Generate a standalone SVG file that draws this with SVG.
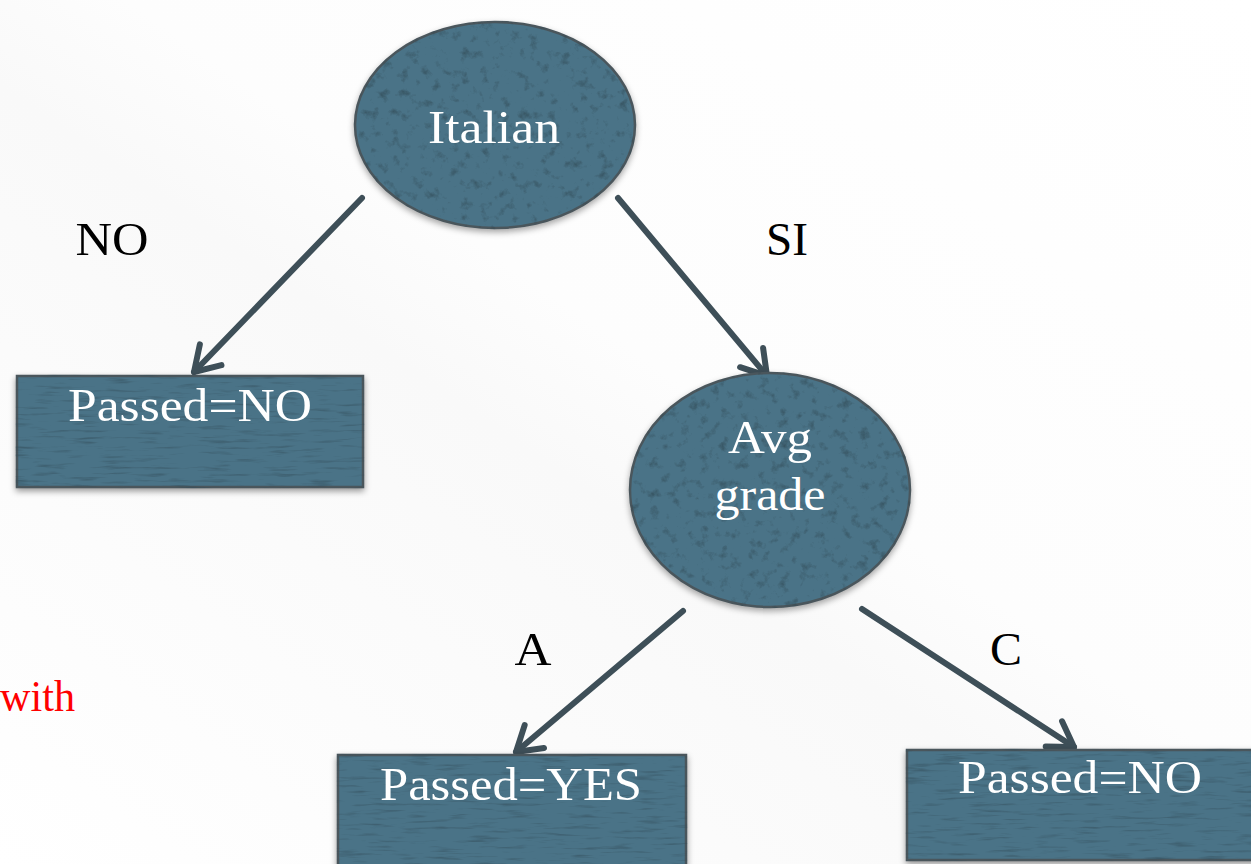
<svg xmlns="http://www.w3.org/2000/svg" width="1251" height="864" viewBox="0 0 1251 864">
  <defs>
    <style>
      .node { fill: #4a7387; stroke: #4a565c; stroke-width: 2.5; }
      .box { filter: url(#boxTex); }
      .oval { filter: url(#ovalTex); }
      .ntext { font-family: "Liberation Serif", "DejaVu Serif", serif; font-size: 46px; fill: #ffffff; text-anchor: middle; }
      .elabel { font-family: "Liberation Serif", "DejaVu Serif", serif; font-size: 46px; fill: #000000; text-anchor: middle; }
      .note { font-family: "Liberation Serif", "DejaVu Serif", serif; font-size: 44px; fill: #ff0000; }
      .edge { stroke: #3e4f58; stroke-width: 6; fill: none; stroke-linecap: round; marker-end: url(#chevron); }
    </style>
    <linearGradient id="bg" x1="0" y1="1" x2="1" y2="0">
      <stop offset="0" stop-color="#ffffff"/>
      <stop offset="0.45" stop-color="#f9f9f9"/>
      <stop offset="0.55" stop-color="#fdfdfd"/>
      <stop offset="1" stop-color="#ffffff"/>
    </linearGradient>
    <!-- open chevron arrowhead -->
    <marker id="chevron" markerUnits="userSpaceOnUse" viewBox="-30 -20 34 40" refX="0" refY="0" markerWidth="34" markerHeight="40" orient="auto">
      <path d="M -24 -15 L 0 0 L -24 15" fill="none" stroke="#3e4f58" stroke-width="6" stroke-linecap="round" stroke-linejoin="round"/>
    </marker>
    <!-- stony texture for the ovals -->
    <filter id="ovalTex" x="-5%" y="-5%" width="110%" height="112%" color-interpolation-filters="sRGB">
      <feTurbulence type="fractalNoise" baseFrequency="0.1" numOctaves="4" seed="7" result="noise"/>
      <feColorMatrix in="noise" type="matrix" values="0 0 0 0 0.18  0 0 0 0 0.27  0 0 0 0 0.31  -1.8 0 0 0 0.78" result="spots"/>
      <feComposite in="spots" in2="SourceGraphic" operator="in" result="spotsIn"/>
      <feGaussianBlur in="SourceAlpha" stdDeviation="3"/>
      <feOffset dx="0" dy="3" result="sb"/>
      <feFlood flood-color="#000000" flood-opacity="0.35"/>
      <feComposite in2="sb" operator="in" result="shadow"/>
      <feMerge>
        <feMergeNode in="shadow"/>
        <feMergeNode in="SourceGraphic"/>
        <feMergeNode in="spotsIn"/>
      </feMerge>
    </filter>
    <!-- streaky texture for the boxes -->
    <filter id="boxTex" x="-5%" y="-10%" width="110%" height="125%" color-interpolation-filters="sRGB">
      <feTurbulence type="fractalNoise" baseFrequency="0.03 0.3" numOctaves="3" seed="4" result="noise"/>
      <feColorMatrix in="noise" type="matrix" values="0 0 0 0 0.2  0 0 0 0 0.3  0 0 0 0 0.35  -1.6 0 0 0 0.72" result="streaks"/>
      <feComposite in="streaks" in2="SourceGraphic" operator="in" result="streaksIn"/>
      <feGaussianBlur in="SourceAlpha" stdDeviation="3"/>
      <feOffset dx="0" dy="3" result="sb"/>
      <feFlood flood-color="#000000" flood-opacity="0.4"/>
      <feComposite in2="sb" operator="in" result="shadow"/>
      <feMerge>
        <feMergeNode in="shadow"/>
        <feMergeNode in="SourceGraphic"/>
        <feMergeNode in="streaksIn"/>
      </feMerge>
    </filter>
  </defs>

  <rect x="0" y="0" width="1251" height="864" fill="url(#bg)"/>

  <!-- connectors -->
  <g id="connectors">
    <line class="edge" x1="362" y1="198" x2="194" y2="372"/>
    <line class="edge" x1="618" y1="198" x2="767" y2="376"/>
    <line class="edge" x1="683" y1="611" x2="516" y2="752"/>
    <line class="edge" x1="862" y1="609" x2="1074" y2="747"/>
    <text class="elabel" x="112" y="255" textLength="73" lengthAdjust="spacingAndGlyphs">NO</text>
    <text class="elabel" x="787" y="255" textLength="42" lengthAdjust="spacingAndGlyphs">SI</text>
    <text class="elabel" x="533" y="665" textLength="37" lengthAdjust="spacingAndGlyphs">A</text>
    <text class="elabel" x="1006" y="665" textLength="32" lengthAdjust="spacingAndGlyphs">C</text>
  </g>

  <g id="node-italian">
    <ellipse class="node oval" cx="495" cy="125" rx="140" ry="103"/>
    <text class="ntext" x="494" y="143" textLength="132" lengthAdjust="spacingAndGlyphs">Italian</text>
  </g>

  <g id="node-passed-no-left">
    <rect class="node box" x="17" y="376" width="346" height="111"/>
    <text class="ntext" x="190" y="421" textLength="244" lengthAdjust="spacingAndGlyphs">Passed=NO</text>
  </g>

  <g id="node-avg-grade">
    <ellipse class="node oval" cx="770" cy="490" rx="140" ry="117"/>
    <text class="ntext" x="770" y="453" textLength="84" lengthAdjust="spacingAndGlyphs">Avg</text>
    <text class="ntext" x="770" y="510" textLength="111" lengthAdjust="spacingAndGlyphs">grade</text>
  </g>

  <g id="node-passed-yes">
    <rect class="node box" x="338" y="755" width="348" height="115"/>
    <text class="ntext" x="511" y="800" textLength="262" lengthAdjust="spacingAndGlyphs">Passed=YES</text>
  </g>

  <g id="node-passed-no-right">
    <rect class="node box" x="907" y="750" width="350" height="110"/>
    <text class="ntext" x="1080" y="793" textLength="244" lengthAdjust="spacingAndGlyphs">Passed=NO</text>
  </g>

  <text class="note" x="0" y="711" textLength="75" lengthAdjust="spacingAndGlyphs">with</text>
</svg>
